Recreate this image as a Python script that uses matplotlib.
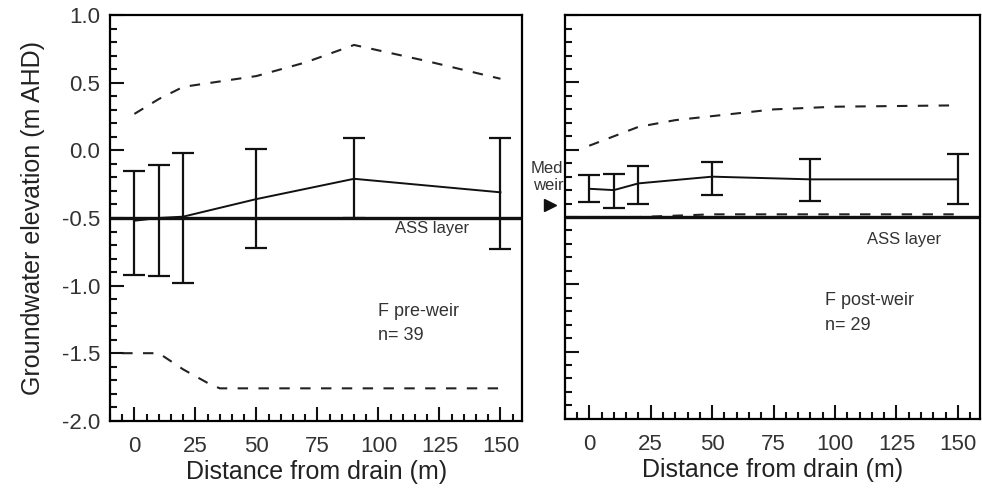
import matplotlib
matplotlib.use("Agg")
import matplotlib.pyplot as plt
from matplotlib.ticker import MultipleLocator

plt.rcParams['font.family'] = ['Liberation Sans', 'DejaVu Sans']

# pre-weir panel
dist_pre = [0, 10, 20, 50, 90, 150]
mean_pre = [-0.52, -0.50, -0.49, -0.36, -0.21, -0.31]
top_pre = [-0.15, -0.11, -0.02, 0.01, 0.09, 0.09]
bot_pre = [-0.92, -0.93, -0.98, -0.72, -0.50, -0.73]
max_x_pre = [0, 10, 20, 35, 50, 70, 90, 120, 150]
max_pre = [0.27, 0.38, 0.47, 0.51, 0.55, 0.65, 0.78, 0.66, 0.53]
min_x_pre = [-5, 10, 20, 30, 35, 50, 150]
min_pre = [-1.50, -1.50, -1.62, -1.72, -1.76, -1.76, -1.76]

# post-weir panel
dist_post = [0, 10, 20, 50, 90, 150]
mean_post = [-0.29, -0.30, -0.25, -0.20, -0.22, -0.22]
top_post = [-0.19, -0.18, -0.12, -0.09, -0.07, -0.03]
bot_post = [-0.39, -0.43, -0.40, -0.34, -0.38, -0.40]
max_x_post = [0, 10, 20, 35, 50, 75, 100, 150]
max_post = [0.03, 0.10, 0.17, 0.22, 0.25, 0.30, 0.32, 0.33]
min_x_post = [0, 20, 50, 150]
min_post = [-0.50, -0.50, -0.48, -0.48]

ass_level = -0.5
med_weir = -0.41
x_ticks = [0, 25, 50, 75, 100, 125, 150]

fig = plt.figure(figsize=(9.82, 4.91), dpi=100)
ax1 = fig.add_axes([0.112, 0.143, 0.420, 0.826])
ax2 = fig.add_axes([0.575, 0.147, 0.423, 0.822])


def style(ax, labels=True):
    ax.set_xlim(-10, 159)
    ax.set_ylim(-2.0, 1.0)
    ax.set_xticks(x_ticks)
    ax.xaxis.set_minor_locator(MultipleLocator(5))
    ax.yaxis.set_major_locator(MultipleLocator(0.5))
    ax.yaxis.set_minor_locator(MultipleLocator(0.1))
    ax.tick_params(which='both', direction='in', width=1.5, colors='#111111',
                   labelcolor='#333333', labelsize=16)
    ax.tick_params(which='major', length=10)
    ax.tick_params(which='minor', length=5)
    ax.tick_params(axis='x', pad=11)
    ax.tick_params(axis='y', pad=7)
    for s in ax.spines.values():
        s.set_linewidth(1.6)
    ax.set_xlabel('Distance from drain (m)', fontsize=18, color='#222222', labelpad=2)
    if labels:
        ax.yaxis.set_major_formatter(plt.FuncFormatter(lambda v, p: f'{v:.1f}'))
    else:
        ax.set_yticklabels([])


def panel(ax, d, m, t, b, mx, mxv, mnx, mnv):
    yerr = [[mi - bi for mi, bi in zip(m, b)], [ti - mi for ti, mi in zip(t, m)]]
    ax.errorbar(d, m, yerr=yerr, color='#111111', lw=1.4, elinewidth=1.6,
                capsize=8, capthick=1.6)
    ax.plot(mx, mxv, color='#222222', lw=1.5, dashes=(5, 5))
    ax.plot(mnx, mnv, color='#222222', lw=1.5, dashes=(5, 5))
    ax.axhline(ass_level, color='#111111', lw=2.4)


style(ax1)
panel(ax1, dist_pre, mean_pre, top_pre, bot_pre, max_x_pre, max_pre, min_x_pre, min_pre)
ax1.set_ylabel('Groundwater elevation (m AHD)', fontsize=18, color='#222222', labelpad=12)
ax1.text(122, -0.58, 'ASS layer', fontsize=12, color='#333333', ha='center', va='center')
ax1.text(100, -1.19, 'F pre-weir', fontsize=13, color='#333333', ha='left', va='center')
ax1.text(100, -1.37, 'n= 39', fontsize=13, color='#333333', ha='left', va='center')

style(ax2, labels=False)
panel(ax2, dist_post, mean_post, top_post, bot_post, max_x_post, max_post, min_x_post, min_post)
ax2.text(128, -0.67, 'ASS layer', fontsize=12, color='#333333', ha='center', va='center')
ax2.text(96, -1.12, 'F post-weir', fontsize=13, color='#333333', ha='left', va='center')
ax2.text(96, -1.31, 'n= 29', fontsize=13, color='#333333', ha='left', va='center')
ax2.plot([-16], [med_weir], marker='>', color='#111111', markersize=8, clip_on=False)
ax2.text(-10.5, -0.08, 'Med\nweir', fontsize=12, color='#333333', ha='right', va='top',
         linespacing=1.2)

fig.savefig('out.png', dpi=100)
